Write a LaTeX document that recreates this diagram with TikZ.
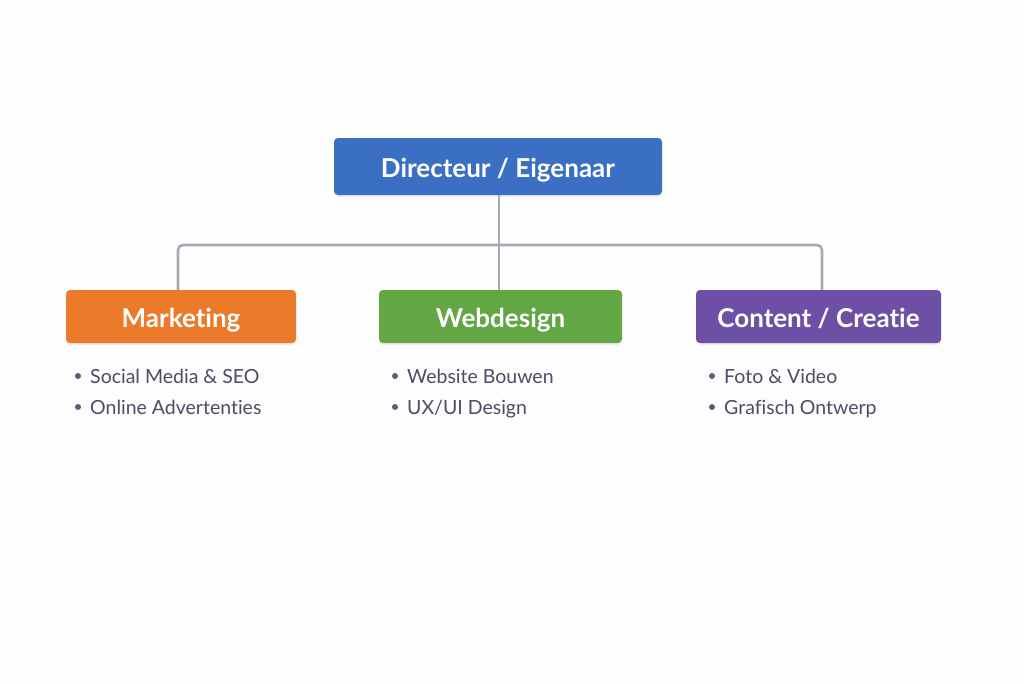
\documentclass[tikz,border=0pt]{standalone}
\usepackage{fontspec}
\setmainfont{Lato}[Ligatures={NoCommon}]
\usetikzlibrary{shadows}
\definecolor{bgc}{HTML}{FDFDFD}
\definecolor{topc}{HTML}{3B6FC3}
\definecolor{orc}{HTML}{EC7A2B}
\definecolor{grc}{HTML}{63A745}
\definecolor{puc}{HTML}{6E4FA6}
\definecolor{linec}{HTML}{A4ABB4}
\definecolor{txtc}{HTML}{4A4D66}
\definecolor{dotc}{HTML}{5A5D78}
\tikzset{
  box/.style={rounded corners=4pt, text=white, font=\fontsize{26}{30}\selectfont\bfseries,
    inner sep=0pt, text height=21pt, text depth=0pt,
    drop shadow={opacity=0.12, shadow xshift=0pt, shadow yshift=-2pt}},
  conn/.style={draw=linec, line width=2.6pt, rounded corners=5pt},
  item/.style={anchor=west, text=txtc, font=\fontsize{19.5}{23}\selectfont, inner sep=0pt,
    text height=16pt, text depth=0pt},
  dot/.style={circle, fill=dotc, minimum size=6pt, inner sep=0pt}
}
\begin{document}
\begin{tikzpicture}[x=1pt,y=-1pt]
\fill[bgc] (0,0) rectangle (1024,683);
\useasboundingbox (0,0) rectangle (1024,683);
\coordinate (jt) at (499,245);
\coordinate (jl) at (178,245);
\coordinate (jr) at (822,245);
\node[box, fill=topc, minimum width=328pt, minimum height=57pt] (top) at (498,166.5) {Directeur / Eigenaar};
\node[box, fill=orc, minimum width=230pt, minimum height=53pt] (mk) at (181,316.5) {Marketing};
\node[box, fill=grc, minimum width=243pt, minimum height=53pt] (wd) at (500.5,316.5) {Webdesign};
\node[box, fill=puc, minimum width=245pt, minimum height=53pt] (cc) at (818.5,316.5) {Content / Creatie};
\draw[conn] (top.south -| jt) -- (jt);
\draw[conn] (mk.north -| jl) -- (jl) -- (jr) -- (cc.north -| jr);
\draw[conn] (jt) -- (wd.north -| jt);
% bullets
\node[dot] (d1) at (78,376) {};
\node[item] (t1) at (90,375) {Social Media \& SEO};
\node[dot] (d2) at (78,407) {};
\node[item] (t2) at (90,406) {Online Advertenties};
\node[dot] (d3) at (395,376) {};
\node[item] (t3) at (407,375) {Website Bouwen};
\node[dot] (d4) at (395,407) {};
\node[item] (t4) at (407,406) {UX/UI Design};
\node[dot] (d5) at (712,376) {};
\node[item] (t5) at (724,375) {Foto \& Video};
\node[dot] (d6) at (712,407) {};
\node[item] (t6) at (724,406) {Grafisch Ontwerp};
\end{tikzpicture}
\end{document}
